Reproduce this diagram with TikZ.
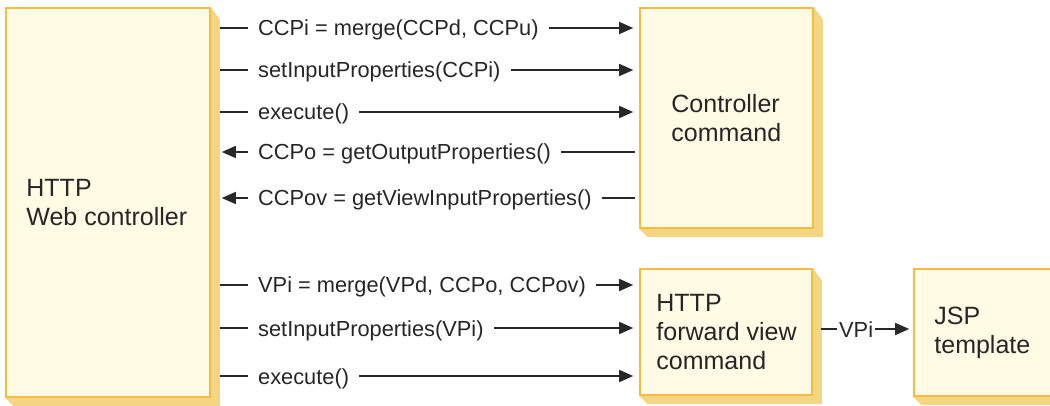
\documentclass[tikz,border=0pt]{standalone}
\usepackage{fontspec}
\setmainfont{Liberation Sans}
\usetikzlibrary{arrows.meta,backgrounds}

\definecolor{boxfill}{RGB}{255,251,228}
\definecolor{boxline}{RGB}{249,186,66}
\definecolor{boxshade}{RGB}{244,213,130}
\definecolor{wirecol}{RGB}{40,40,40}

\tikzset{
  box/.style={draw=boxline, fill=boxfill, line width=1.6pt, inner sep=0pt},
  boxtext/.style={font=\fontsize{25}{29}\selectfont, align=left, inner sep=0pt, anchor=west, text=black!85},
  msg/.style={font=\fontsize{21.8}{26}\selectfont, inner xsep=10pt, inner ysep=0pt,
    text height=16pt, text depth=0pt, anchor=west, text=black!85},
  wire/.style={draw=wirecol, line width=1.4pt},
  call/.style={wire, -{Triangle[length=14pt,width=12pt]}},
}

% bevelled shadow on the right and bottom of a box
\newcommand{\shadebox}[1]{%
  \fill[boxshade] (#1.north east) -- ([shift={(9,12)}]#1.north east)
    -- ([shift={(9,8)}]#1.south east) -- ([shift={(8,8)}]#1.south west)
    -- (#1.south west) -- cycle;}

\begin{document}
\begin{tikzpicture}[x=1pt,y=-1pt]
    \useasboundingbox (0,0) rectangle (1050,406);

    % boxes
    \node [box, minimum width=204, minimum height=389] (web) at (108,202.5) {};
    \node [box, minimum width=173, minimum height=220] (ctl) at (726.5,118) {};
    \node [box, minimum width=172, minimum height=126] (fwd) at (726,332) {};
    \node [box, minimum width=146, minimum height=127] (jsp) at (987,332.5) {};
    \begin{scope}[on background layer]
        \shadebox{web} \shadebox{ctl} \shadebox{fwd} \shadebox{jsp}
    \end{scope}

    \node [boxtext] (webtxt) at ([xshift=21]web.west) {HTTP\\Web controller};
    \node [boxtext] (ctltxt) at ([xshift=32]ctl.west) {Controller\\command};
    \node [boxtext] (fwdtxt) at ([xshift=17]fwd.west) {HTTP\\forward view\\command};
    \node [boxtext] (jsptxt) at ([xshift=21]jsp.west) {JSP\\template};

    % calls to the controller command
    \node [msg] (m1) at (248,28) {CCPi = merge(CCPd, CCPu)};
    \node [msg] (m2) at (248,70) {setInputProperties(CCPi)};
    \node [msg] (m3) at (248,112) {execute()};
    \node [msg] (m4) at (248,152) {CCPo = getOutputProperties()};
    \node [msg] (m5) at (248,198) {CCPov = getViewInputProperties()};

    \draw [wire] ([xshift=9]web.east |- m1) -- (m1.west);
    \draw [call] (m1.east) -- ([xshift=-6]ctl.west |- m1);
    \draw [wire] ([xshift=9]web.east |- m2) -- (m2.west);
    \draw [call] (m2.east) -- ([xshift=-6]ctl.west |- m2);
    \draw [wire] ([xshift=9]web.east |- m3) -- (m3.west);
    \draw [call] (m3.east) -- ([xshift=-6]ctl.west |- m3);
    \draw [wire] ([xshift=-4]ctl.west |- m4) -- (m4.east);
    \draw [call] (m4.west) -- ([xshift=11]web.east |- m4);
    \draw [wire] ([xshift=-4]ctl.west |- m5) -- (m5.east);
    \draw [call] (m5.west) -- ([xshift=11]web.east |- m5);

    % calls to the forward view command
    \node [msg] (m6) at (248,285) {VPi = merge(VPd, CCPo, CCPov)};
    \node [msg] (m7) at (248,328) {setInputProperties(VPi)};
    \node [msg] (m8) at (248,376) {execute()};

    \draw [wire] ([xshift=9]web.east |- m6) -- (m6.west);
    \draw [call] (m6.east) -- ([xshift=-6]fwd.west |- m6);
    \draw [wire] ([xshift=9]web.east |- m7) -- (m7.west);
    \draw [call] (m7.east) -- ([xshift=-6]fwd.west |- m7);
    \draw [wire] ([xshift=9]web.east |- m8) -- (m8.west);
    \draw [call] (m8.east) -- ([xshift=-6]fwd.west |- m8);

    % view to template
    \node [msg, inner xsep=2pt] (vpi) at (837,329) {VPi};
    \draw [wire] ([xshift=8]fwd.east |- vpi) -- (vpi.west);
    \draw [call] (vpi.east) -- ([xshift=-4]jsp.west |- vpi);
\end{tikzpicture}
\end{document}
